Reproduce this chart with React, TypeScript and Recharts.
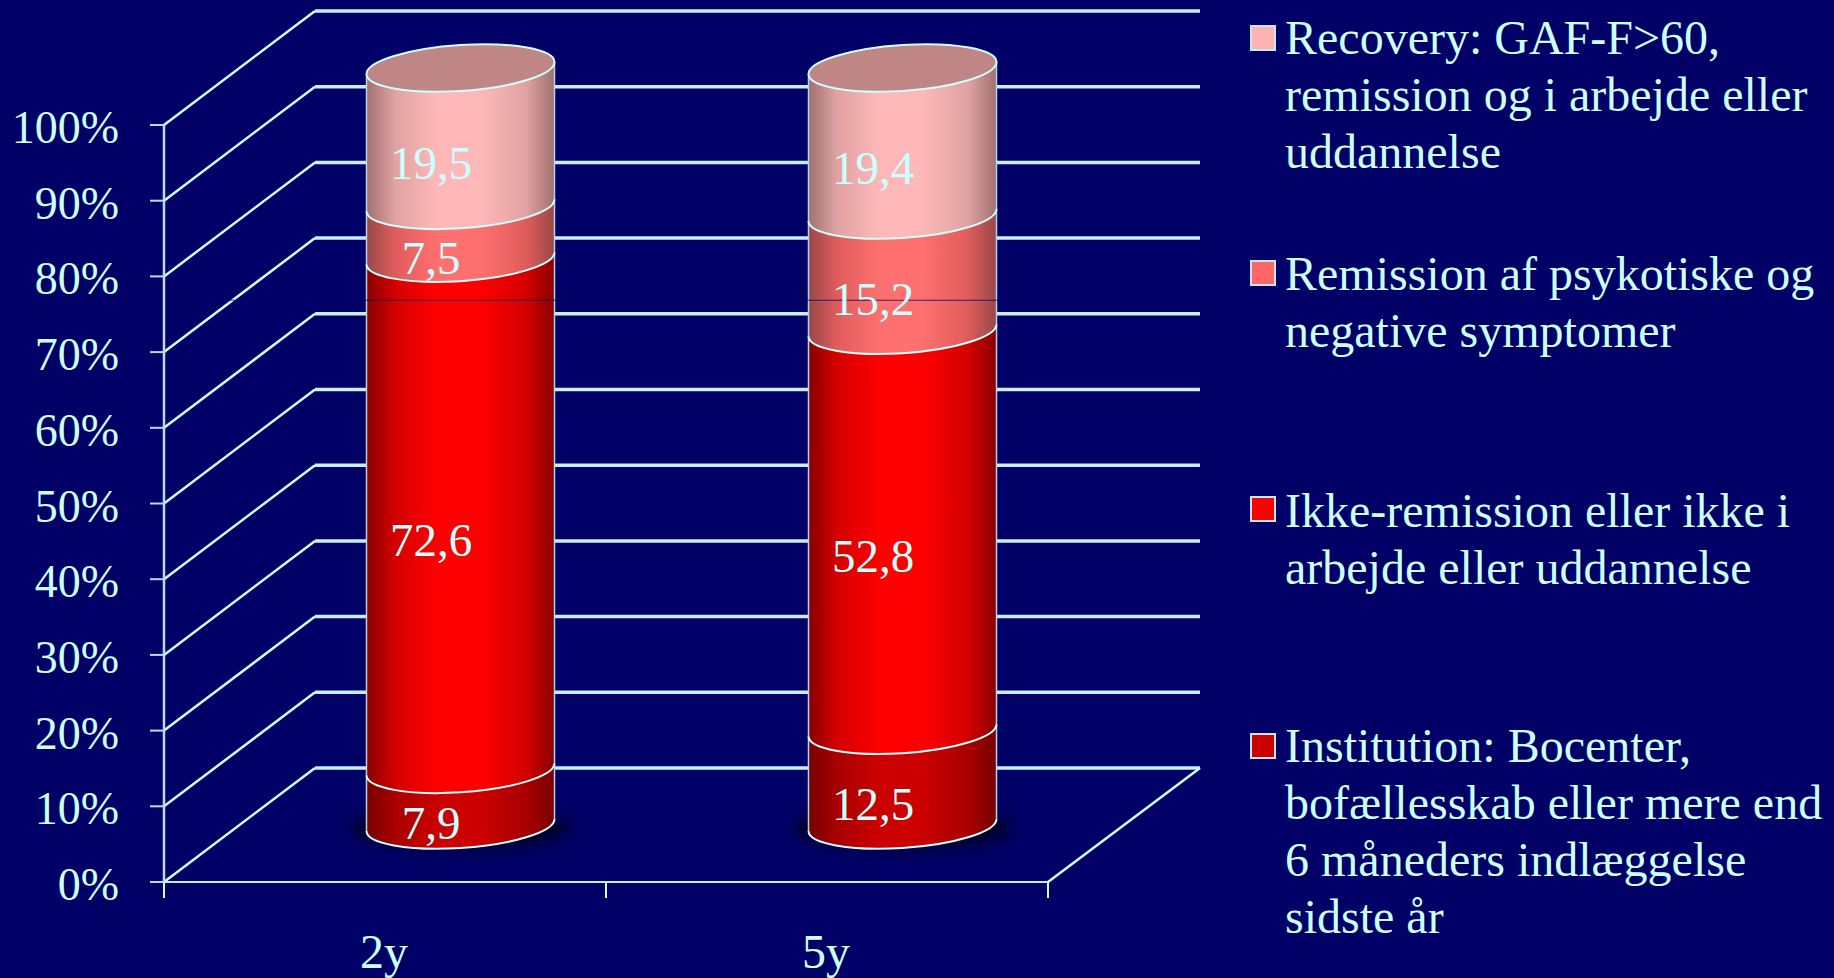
import React from "react";
import { Bar, BarChart, CartesianGrid, LabelList, Legend, ReferenceLine, XAxis, YAxis } from "recharts";

const categories = ["2y", "5y"];
const institution = [7.9, 12.5];
const ikkeRemission = [72.6, 52.8];
const remission = [7.5, 15.2];
const recovery = [19.5, 19.4];
const yTicks = [0, 0.1, 0.2, 0.3, 0.4, 0.5, 0.6, 0.7, 0.8, 0.9, 1];

const seriesKeys = ["institution", "ikkeRemission", "remission", "recovery"];
const seriesColors = ["#CC0000", "#FF0000", "#FF6666", "#FFB3B3"];
const seriesBright = ["#CC0000", "#FF0000", "#FF7070", "#FFB8B8"];
const seriesMids = ["#A80000", "#D40000", "#E05C5C", "#E0A2A2"];
const seriesEdges = ["#780000", "#880000", "#984848", "#A07070"];
const seriesNames = [
  "Institution: Bocenter,\nbofællesskab eller mere end\n6 måneders indlæggelse\nsidste år",
  "Ikke-remission eller ikke i\narbejde eller uddannelse",
  "Remission af psykotiske og\nnegative symptomer",
  "Recovery: GAF-F>60,\nremission og i arbejde eller\nuddannelse",
];

const chartData = categories.map((category, i) => ({
  category,
  institution: institution[i],
  ikkeRemission: ikkeRemission[i],
  remission: remission[i],
  recovery: recovery[i],
}));

const W = 1834;
const H = 978;
const INK = "#CCFFFF";
const BG = "#000066";
const FONT = '"Liberation Serif", "Times New Roman", serif';
const PLOT_LEFT = 164;
const PLOT_RIGHT = 1048;
const PLOT_TOP = 125;
const PLOT_BOTTOM = 882;
const DEPTH_X = 151;
const DEPTH_Y = 114;
const WALL_RIGHT = 1200;
const BAND = (PLOT_RIGHT - PLOT_LEFT) / categories.length;
// the cylinders stand halfway into the floor
const SHIFT_X = DEPTH_X / 2;
const SHIFT_Y = -57;
const TILT = 6;
const ELLIPSE_B = 23;
const K = 0.5523;

// front half of the slanted ellipse, left to right
function frontCurve(cx: number, cy: number, a: number, move: boolean) {
  const lx = cx - a;
  const rx = cx + a;
  const ly = cy + TILT;
  const ry = cy - TILT;
  const by = cy + ELLIPSE_B;
  return (
    `${move ? "M" : "L"}${lx},${ly} ` +
    `C${lx},${ly + K * ELLIPSE_B} ${cx - K * a},${by + K * TILT} ${cx},${by} ` +
    `C${cx + K * a},${by - K * TILT} ${rx},${ry + K * ELLIPSE_B} ${rx},${ry}`
  );
}

function backCurve(cx: number, cy: number, a: number) {
  const lx = cx - a;
  const rx = cx + a;
  const ly = cy + TILT;
  const ry = cy - TILT;
  const ty = cy - ELLIPSE_B;
  return (
    `C${rx},${ry - K * ELLIPSE_B} ${cx + K * a},${ty - K * TILT} ${cx},${ty} ` +
    `C${cx - K * a},${ty + K * TILT} ${lx},${ly - K * ELLIPSE_B} ${lx},${ly}`
  );
}

// reversed front half, right to left
function frontCurveBack(cx: number, cy: number, a: number) {
  const lx = cx - a;
  const rx = cx + a;
  const ly = cy + TILT;
  const ry = cy - TILT;
  const by = cy + ELLIPSE_B;
  return (
    `L${rx},${ry} ` +
    `C${rx},${ry + K * ELLIPSE_B} ${cx + K * a},${by - K * TILT} ${cx},${by} ` +
    `C${cx - K * a},${by + K * TILT} ${lx},${ly + K * ELLIPSE_B} ${lx},${ly}`
  );
}

function CylinderPiece(props: any) {
  const { x, y, width, height, index } = props;
  const a = width / 2;
  const cx = x + a + SHIFT_X;
  const top = y + SHIFT_Y;
  const bottom = y + height + SHIFT_Y;
  const body = `${frontCurve(cx, top, a, true)} ${frontCurveBack(cx, bottom, a)} Z`;
  return (
    <g>
      {index === 0 && <ellipse cx={cx} cy={bottom + 3} rx={a + 14} ry={21} fill="#000022" filter="url(#floorShadow)" />}
      <path d={body} fill={`url(#cyl${index})`} />
      <line x1={cx - a} x2={cx - a} y1={top + TILT} y2={bottom + TILT} stroke="#B4D4E4" strokeWidth={1.5} />
      <line x1={cx + a} x2={cx + a} y1={top - TILT} y2={bottom - TILT} stroke="#B4D4E4" strokeWidth={1.5} />
      <path d={frontCurve(cx, bottom, a, true)} fill="none" stroke={INK} strokeWidth={2} />
      {index === 3 && (
        <path
          d={`${frontCurve(cx, top, a, true)} ${backCurve(cx, top, a)} Z`}
          fill="#C08585"
          stroke={INK}
          strokeWidth={2}
        />
      )}
    </g>
  );
}

// one value gridline: up the side wall, then along the back wall
function WallLine(props: any) {
  const { y1 } = props;
  const backY = y1 - DEPTH_Y;
  const isFloor = Math.abs(y1 - PLOT_BOTTOM) < 1;
  return (
    <g>
      <line x1={PLOT_LEFT} y1={y1} x2={PLOT_LEFT + DEPTH_X} y2={backY} stroke={INK} strokeWidth={2.5} />
      <line x1={PLOT_LEFT + DEPTH_X} y1={backY} x2={WALL_RIGHT} y2={backY} stroke="#C8F0FF" strokeWidth={3.5} />
      {isFloor && <line x1={PLOT_RIGHT} y1={y1} x2={WALL_RIGHT} y2={backY} stroke={INK} strokeWidth={2.5} />}
    </g>
  );
}

function YTick(props: any) {
  const { y, payload } = props;
  return (
    <g>
      <line x1={PLOT_LEFT - 14} x2={PLOT_LEFT} y1={y} y2={y} stroke="#B4DCEC" strokeWidth={2} />
      <text x={119} y={y + 18} textAnchor="end" fontSize={46} fontFamily={FONT} fill={INK}>
        {`${Math.round(payload.value * 100)}%`}
      </text>
    </g>
  );
}

function XTick(props: any) {
  const { x, payload, index } = props;
  return (
    <g>
      {index === 0 && <line x1={x - BAND / 2} x2={x - BAND / 2} y1={PLOT_BOTTOM} y2={PLOT_BOTTOM + 16} stroke={INK} strokeWidth={2} />}
      <line x1={x + BAND / 2} x2={x + BAND / 2} y1={PLOT_BOTTOM} y2={PLOT_BOTTOM + 16} stroke={INK} strokeWidth={2} />
      <text x={x - 1} y={968} textAnchor="middle" fontSize={48} fontFamily={FONT} fill={INK}>
        {payload.value}
      </text>
    </g>
  );
}

function SegmentLabel(props: any) {
  const { x, y, width, height, value } = props;
  return (
    <text
      x={x + width / 2 + 46}
      y={y + height / 2 - 31 + 16}
      textAnchor="middle"
      fontSize={47}
      fontFamily={FONT}
      fill={INK}
    >
      {String(value).replace(".", ",")}
    </text>
  );
}

const legendTops = [717, 482, 245, 9];
const legendSwatchTops = [733, 496, 260, 25];

function ChartLegend({ payload }: any) {
  return (
    <div style={{ position: "relative", width: 584, height: H, fontFamily: FONT, fontSize: 48, color: INK }}>
      {seriesKeys.map((key, i) => {
        const entry = (payload || []).find((p: any) => p.dataKey === key);
        return (
          <React.Fragment key={key}>
            <div
              style={{
                position: "absolute",
                left: 0,
                top: legendSwatchTops[i],
                width: 22,
                height: 22,
                background: entry ? entry.color : seriesColors[i],
                border: "2px solid #C8E8F0",
              }}
            />
            <div
              style={{
                position: "absolute",
                left: 35,
                top: legendTops[i],
                lineHeight: "57px",
                whiteSpace: "pre",
              }}
            >
              {seriesNames[i]}
            </div>
          </React.Fragment>
        );
      })}
    </div>
  );
}

export default function App() {
  return (
    <div style={{ position: "absolute", left: 0, top: 0, width: W, height: H, background: BG, overflow: "hidden" }}>
      <BarChart
        width={W}
        height={H}
        data={chartData}
        stackOffset="expand"
        barSize={188}
        margin={{ top: PLOT_TOP, right: W - PLOT_RIGHT, bottom: 0, left: 0 }}
      >
        <defs>
          <filter id="floorShadow" x="-30%" y="-80%" width="160%" height="260%">
            <feGaussianBlur stdDeviation="7" />
          </filter>
          {seriesKeys.map((key, i) => (
            <linearGradient key={key} id={`cyl${i}`} x1="0" y1="0" x2="1" y2="0">
              <stop offset="0%" stopColor={seriesEdges[i]} />
              <stop offset="15%" stopColor={seriesMids[i]} />
              <stop offset="38%" stopColor={seriesBright[i]} />
              <stop offset="60%" stopColor={seriesBright[i]} />
              <stop offset="85%" stopColor={seriesMids[i]} />
              <stop offset="100%" stopColor={seriesEdges[i]} />
            </linearGradient>
          ))}
        </defs>
        <CartesianGrid vertical={false} horizontal={(p: any) => <WallLine key={p.key} {...p} />} />
        <XAxis
          dataKey="category"
          height={H - PLOT_BOTTOM}
          axisLine={{ stroke: "#C4EEFF", strokeWidth: 2 }}
          tickLine={false}
          tick={<XTick />}
          interval={0}
        />
        <YAxis
          type="number"
          domain={[0, 1]}
          ticks={yTicks}
          width={PLOT_LEFT}
          axisLine={{ stroke: "#B4DCEC", strokeWidth: 2.5 }}
          tickLine={false}
          tick={<YTick />}
          interval={0}
        />
        {seriesKeys.map((key, i) => (
          <Bar
            key={key}
            dataKey={key}
            name={seriesNames[i]}
            stackId="a"
            fill={seriesColors[i]}
            isAnimationActive={false}
            shape={(p: any) => <CylinderPiece {...p} index={i} />}
          >
            <LabelList dataKey={key} content={<SegmentLabel />} />
          </Bar>
        ))}
        <ReferenceLine y={0.7685} stroke={BG} strokeOpacity={0.75} strokeWidth={1} />
        <Legend
          layout="vertical"
          align="center"
          verticalAlign="middle"
          width={584}
          wrapperStyle={{ left: 1250, top: 0, width: 584, height: H }}
          content={<ChartLegend />}
        />
      </BarChart>
    </div>
  );
}
